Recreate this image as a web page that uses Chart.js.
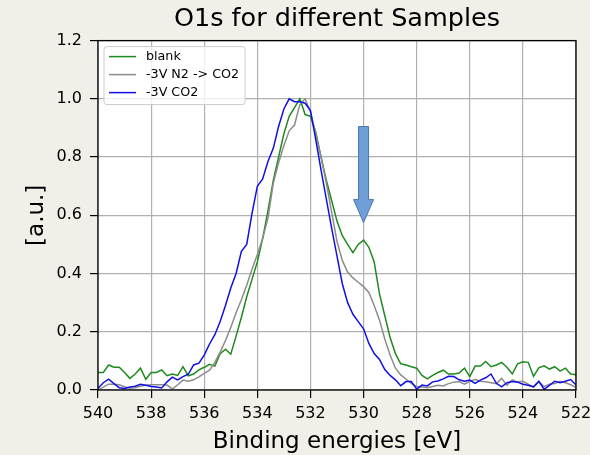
<!DOCTYPE html>
<html>
<head>
<meta charset="utf-8">
<script src="https://cdn.jsdelivr.net/npm/chart.js@4.4.1/dist/chart.umd.min.js"></script>
<style>
  html, body { margin: 0; padding: 0; background: #f2efe9; }
  canvas { display: block; }
</style>
</head>
<body>
<canvas id="chartCanvas" width="590" height="455"></canvas>
<script>
// binding energy grid (eV)
const energies = [
  540.0, 539.8, 539.6, 539.4, 539.2, 539.0, 538.8, 538.6, 538.4, 538.2,
  538.0, 537.8, 537.6, 537.4, 537.2, 537.0, 536.8, 536.6, 536.4, 536.2,
  536.0, 535.8, 535.6, 535.4, 535.2, 535.0, 534.8, 534.6, 534.4, 534.2,
  534.0, 533.8, 533.6, 533.4, 533.2, 533.0, 532.8, 532.6, 532.4, 532.2,
  532.0, 531.8, 531.6, 531.4, 531.2, 531.0, 530.8, 530.6, 530.4, 530.2,
  530.0, 529.8, 529.6, 529.4, 529.2, 529.0, 528.8, 528.6, 528.4, 528.2,
  528.0, 527.8, 527.6, 527.4, 527.2, 527.0, 526.8, 526.6, 526.4, 526.2,
  526.0, 525.8, 525.6, 525.4, 525.2, 525.0, 524.8, 524.6, 524.4, 524.2,
  524.0, 523.8, 523.6, 523.4, 523.2, 523.0, 522.8, 522.6, 522.4, 522.2,
  522.0
];

const blank = [
  0.060, 0.060, 0.086, 0.078, 0.078, 0.060, 0.040, 0.055, 0.075, 0.037,
  0.060, 0.060, 0.069, 0.049, 0.055, 0.050, 0.080, 0.049, 0.055, 0.069,
  0.078, 0.088, 0.082, 0.125, 0.140, 0.123, 0.185, 0.250, 0.320, 0.380,
  0.440, 0.520, 0.615, 0.720, 0.800, 0.880, 0.940, 0.970, 1.000, 0.946,
  0.940, 0.885, 0.800, 0.720, 0.650, 0.580, 0.530, 0.500, 0.472, 0.500,
  0.515, 0.490, 0.440, 0.330, 0.255, 0.180, 0.125, 0.090, 0.086, 0.080,
  0.075, 0.050, 0.038, 0.050, 0.060, 0.068, 0.055, 0.055, 0.058, 0.075,
  0.046, 0.082, 0.082, 0.098, 0.080, 0.086, 0.095, 0.078, 0.055, 0.090,
  0.097, 0.095, 0.047, 0.076, 0.083, 0.072, 0.080, 0.065, 0.075, 0.055,
  0.052
];

const n2ToCo2 = [
  0.000, 0.010, 0.020, 0.020, 0.018, 0.011, 0.006, 0.008, 0.013, 0.016,
  0.018, 0.018, 0.018, 0.017, 0.003, 0.018, 0.034, 0.030, 0.035, 0.045,
  0.057, 0.068, 0.095, 0.130, 0.170, 0.215, 0.265, 0.310, 0.360, 0.415,
  0.465, 0.520, 0.590, 0.710, 0.780, 0.840, 0.890, 0.910, 0.980, 1.000,
  0.955, 0.880, 0.800, 0.710, 0.610, 0.510, 0.445, 0.405, 0.385, 0.370,
  0.355, 0.335, 0.290, 0.240, 0.175, 0.120, 0.075, 0.052, 0.037, 0.022,
  0.012, 0.010, 0.008, 0.012, 0.016, 0.014, 0.022, 0.027, 0.029, 0.020,
  0.030, 0.036, 0.030, 0.028, 0.025, 0.022, 0.040, 0.016, 0.035, 0.028,
  0.030, 0.020, 0.010, 0.028, 0.012, 0.020, 0.022, 0.030, 0.025, 0.018,
  0.008
];

const co2 = [
  0.006, 0.025, 0.037, 0.022, 0.008, 0.005, 0.010, 0.013, 0.020, 0.016,
  0.012, 0.010, 0.007, 0.028, 0.044, 0.035, 0.046, 0.054, 0.086, 0.092,
  0.120, 0.158, 0.190, 0.235, 0.290, 0.350, 0.400, 0.476, 0.500, 0.607,
  0.700, 0.725, 0.785, 0.830, 0.905, 0.965, 1.000, 0.990, 0.990, 0.985,
  0.960, 0.860, 0.755, 0.655, 0.555, 0.460, 0.365, 0.300, 0.260, 0.235,
  0.210, 0.160, 0.125, 0.105, 0.070, 0.050, 0.035, 0.015, 0.029, 0.029,
  0.003, 0.017, 0.014, 0.028, 0.031, 0.038, 0.047, 0.046, 0.035, 0.030,
  0.034, 0.023, 0.034, 0.042, 0.055, 0.023, 0.011, 0.025, 0.029, 0.027,
  0.020, 0.016, 0.011, 0.030, 0.002, 0.016, 0.030, 0.025, 0.030, 0.036,
  0.017
];

const seriesLabels = ["blank", "-3V N2 -> CO2", "-3V CO2"];
const xTicks = [540, 538, 536, 534, 532, 530, 528, 526, 524, 522];
const yTicks = [0.0, 0.2, 0.4, 0.6, 0.8, 1.0, 1.2];

// arrow marking the 530 eV shoulder (data coords)
const arrowEnergy = 530;
const arrowFrom = 0.905;
const arrowTo = 0.575;

const FONT = "'DejaVu Sans', sans-serif";

function toPoints(ys) {
  return energies.map((e, i) => ({ x: e, y: ys[i] }));
}

const decorations = {
  id: "decorations",
  beforeDraw(chart) {
    const { ctx, chartArea: a } = chart;
    ctx.save();
    ctx.fillStyle = "#ffffff";
    ctx.fillRect(a.left, a.top, a.right - a.left, a.bottom - a.top);
    ctx.restore();
  },
  afterDatasetsDraw(chart) {
    const { ctx, chartArea: a, scales } = chart;

    // block arrow
    const ax = scales.x.getPixelForValue(arrowEnergy);
    const yTop = scales.y.getPixelForValue(arrowFrom);
    const yTip = scales.y.getPixelForValue(arrowTo);
    const headLen = 23;
    ctx.save();
    ctx.beginPath();
    ctx.moveTo(ax - 5, yTop);
    ctx.lineTo(ax + 5, yTop);
    ctx.lineTo(ax + 5, yTip - headLen);
    ctx.lineTo(ax + 10, yTip - headLen);
    ctx.lineTo(ax, yTip);
    ctx.lineTo(ax - 10, yTip - headLen);
    ctx.lineTo(ax - 5, yTip - headLen);
    ctx.closePath();
    ctx.fillStyle = "#6f9fd6";
    ctx.fill();
    ctx.strokeStyle = "#4a78ad";
    ctx.lineWidth = 1;
    ctx.stroke();
    ctx.restore();

    // legend box
    ctx.save();
    ctx.font = "12.7px " + FONT;
    const textW = Math.max(...chart.data.datasets.map(d => ctx.measureText(d.label).width));
    const bx = a.left + 6, by = a.top + 6;
    const bw = 42 + textW + 6, bh = 58;
    ctx.beginPath();
    ctx.roundRect(bx, by, bw, bh, 3);
    ctx.fillStyle = "rgba(255,255,255,0.8)";
    ctx.fill();
    ctx.strokeStyle = "#cccccc";
    ctx.lineWidth = 1;
    ctx.stroke();
    ctx.textBaseline = "middle";
    ctx.fillStyle = "#000";
    chart.data.datasets.forEach((d, i) => {
      const ry = by + 10 + i * 18;
      ctx.beginPath();
      ctx.moveTo(bx + 5, ry);
      ctx.lineTo(bx + 32, ry);
      ctx.strokeStyle = d.borderColor;
      ctx.lineWidth = 1.5;
      ctx.stroke();
      ctx.fillText(d.label, bx + 42, ry);
    });
    ctx.restore();

    // frame
    ctx.save();
    ctx.strokeStyle = "#000";
    ctx.lineWidth = 1.3;
    ctx.strokeRect(a.left, a.top, a.right - a.left, a.bottom - a.top);
    ctx.restore();
  }
};

Chart.defaults.font.family = FONT;
Chart.defaults.color = "#000";

new Chart(document.getElementById("chartCanvas"), {
  type: "line",
  data: {
    datasets: [
      { label: seriesLabels[0], data: toPoints(blank), borderColor: "#1e8a1e", order: 2 },
      { label: seriesLabels[1], data: toPoints(n2ToCo2), borderColor: "#8c8c8c", order: 1 },
      { label: seriesLabels[2], data: toPoints(co2), borderColor: "#1010e6", order: 0 }
    ]
  },
  options: {
    responsive: false,
    animation: false,
    layout: { padding: { top: 0, right: 14, left: 0, bottom: 0 } },
    elements: {
      point: { radius: 0 },
      line: { borderWidth: 1.5, tension: 0 }
    },
    plugins: {
      legend: { display: false },
      tooltip: { enabled: false },
      title: {
        display: true,
        fullSize: false,
        text: "O1s for different Samples",
        color: "#000",
        font: { size: 25.5, weight: "normal", family: FONT },
        padding: { top: 4, bottom: 6 }
      }
    },
    scales: {
      x: {
        type: "linear",
        reverse: true,
        min: 522,
        max: 540,
        afterBuildTicks(scale) { scale.ticks = xTicks.map(v => ({ value: v })); },
        afterFit(scale) {
          scale.height = 65;
          // let the last label run off the edge like the original
          scale.paddingLeft = 0;
          scale.paddingRight = 0;
        },
        ticks: {
          callback: v => v.toFixed(0),
          font: { size: 16 },
          padding: 6,
          maxRotation: 0
        },
        grid: { color: "#b0b0b0", lineWidth: 1.2, tickLength: 8, tickColor: "#000", tickWidth: 1.2 },
        border: { display: false },
        title: {
          display: true,
          text: "Binding energies [eV]",
          font: { size: 23, lineHeight: 1.15 },
          padding: { top: 0, bottom: 0 }
        }
      },
      y: {
        min: 0,
        max: 1.2,
        afterBuildTicks(scale) { scale.ticks = yTicks.map(v => ({ value: v })); },
        afterFit(scale) { scale.width = 98; },
        ticks: {
          callback: v => v.toFixed(1),
          font: { size: 16 },
          padding: 8
        },
        grid: { color: "#b0b0b0", lineWidth: 1.2, tickLength: 8, tickColor: "#000", tickWidth: 1.2 },
        border: { display: false },
        title: {
          display: true,
          text: "[a.u.]",
          font: { size: 23 },
          padding: { top: 23, bottom: 0 }
        }
      }
    }
  },
  plugins: [decorations]
});
</script>
</body>
</html>
